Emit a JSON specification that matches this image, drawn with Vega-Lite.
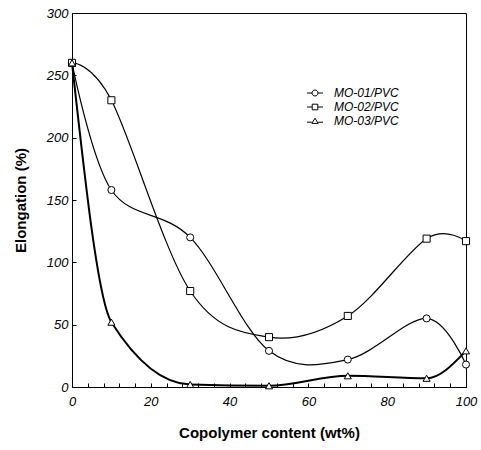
{
  "$schema": "https://vega.github.io/schema/vega-lite/v6.json",
  "width": 394,
  "height": 374,
  "autosize": "none",
  "padding": {"left": 72, "top": 13, "right": 15, "bottom": 63},
  "background": "white",
  "config": {
    "font": "Liberation Sans",
    "view": {"stroke": "black", "strokeWidth": 1},
    "axis": {
      "domainColor": "black",
      "tickColor": "black",
      "grid": false,
      "labelFont": "Liberation Sans",
      "labelFontStyle": "italic",
      "labelFontSize": 13,
      "labelColor": "black",
      "titleFont": "Liberation Sans",
      "titleFontWeight": "bold",
      "titleFontSize": 15,
      "titleColor": "black"
    }
  },
  "data": {
    "values": [
      {"series": "MO-01/PVC", "x": 0, "y": 260},
      {"series": "MO-01/PVC", "x": 10, "y": 158},
      {"series": "MO-01/PVC", "x": 30, "y": 120},
      {"series": "MO-01/PVC", "x": 50, "y": 29},
      {"series": "MO-01/PVC", "x": 70, "y": 22},
      {"series": "MO-01/PVC", "x": 90, "y": 55},
      {"series": "MO-01/PVC", "x": 100, "y": 18},
      {"series": "MO-02/PVC", "x": 0, "y": 260},
      {"series": "MO-02/PVC", "x": 10, "y": 230},
      {"series": "MO-02/PVC", "x": 30, "y": 77},
      {"series": "MO-02/PVC", "x": 50, "y": 40},
      {"series": "MO-02/PVC", "x": 70, "y": 57},
      {"series": "MO-02/PVC", "x": 90, "y": 119},
      {"series": "MO-02/PVC", "x": 100, "y": 117},
      {"series": "MO-03/PVC", "x": 0, "y": 260},
      {"series": "MO-03/PVC", "x": 10, "y": 52},
      {"series": "MO-03/PVC", "x": 30, "y": 2},
      {"series": "MO-03/PVC", "x": 50, "y": 1},
      {"series": "MO-03/PVC", "x": 70, "y": 9},
      {"series": "MO-03/PVC", "x": 90, "y": 7},
      {"series": "MO-03/PVC", "x": 100, "y": 29}
    ]
  },
  "encoding": {
    "x": {
      "field": "x", "type": "quantitative",
      "scale": {"domain": [0, 100], "nice": false, "zero": false},
      "axis": {
        "title": "Copolymer content (wt%)",
        "values": [0,4,8,12,16,20,24,28,32,36,40,44,48,52,56,60,64,68,72,76,80,84,88,92,96,100],
        "labelExpr": "datum.value % 20 === 0 ? datum.label : ''",
        "tickSize": -4,
        "labelPadding": 12,
        "titlePadding": 17,
        "labelFlush": false
      }
    },
    "y": {
      "field": "y", "type": "quantitative",
      "scale": {"domain": [0, 300], "nice": false},
      "axis": {
        "title": "Elongation (%)",
        "values": [0, 50, 100, 150, 200, 250, 300],
        "tickSize": -4,
        "labelPadding": 8,
        "titlePadding": 18,
        "labelFlush": false
      }
    }
  },
  "layer": [
    {
      "transform": [{"filter": "datum.series !== 'MO-03/PVC'"}],
      "mark": {"type": "line", "interpolate": "cardinal", "tension": 0, "stroke": "black", "strokeWidth": 1.2},
      "encoding": {"detail": {"field": "series", "type": "nominal"}}
    },
    {
      "transform": [{"filter": "datum.series === 'MO-03/PVC'"}],
      "mark": {"type": "line", "interpolate": "monotone", "stroke": "black", "strokeWidth": 2}
    },
    {
      "mark": {"type": "point", "filled": true, "fill": "white", "stroke": "black", "strokeWidth": 1, "opacity": 1, "size": 50},
      "encoding": {
        "shape": {
          "field": "series", "type": "nominal",
          "scale": {"domain": ["MO-01/PVC", "MO-02/PVC", "MO-03/PVC"], "range": ["circle", "square", "triangle-up"]},
          "legend": null
        }
      }
    },
    {
      "transform": [{"filter": "datum.y < -1000"}],
      "mark": {"type": "point", "filled": false, "stroke": "black", "strokeWidth": 1, "opacity": 1, "size": 64},
      "encoding": {
        "shape": {
          "field": "series", "type": "nominal",
          "scale": {
            "domain": ["MO-01/PVC", "MO-02/PVC", "MO-03/PVC"],
            "range": [
              "M-2,0H-0.75M0.75,0H2M-0.75,0A0.75,0.75 0 1,1 0.75,0A0.75,0.75 0 1,1 -0.75,0Z",
              "M-2,0H-0.7M0.7,0H2M-0.7,-0.7H0.7V0.7H-0.7Z",
              "M-2,0.3H-0.8M0.8,0.3H2M0,-0.7L0.8,0.6L-0.8,0.6Z"
            ]
          },
          "legend": {
            "title": null,
            "orient": "none",
            "legendX": 237,
            "legendY": 74,
            "padding": 0,
            "labelFont": "Liberation Sans",
            "labelFontStyle": "italic",
            "labelFontSize": 12,
            "labelColor": "black",
            "labelOffset": 13,
            "rowPadding": 2,
            "symbolStrokeColor": "black",
            "symbolStrokeWidth": 1,
            "symbolFillColor": "white",
            "symbolSize": 64,
            "symbolOpacity": 1
          }
        }
      }
    }
  ],
  "resolve": {"scale": {"shape": "independent"}, "legend": {"shape": "independent"}}
}
